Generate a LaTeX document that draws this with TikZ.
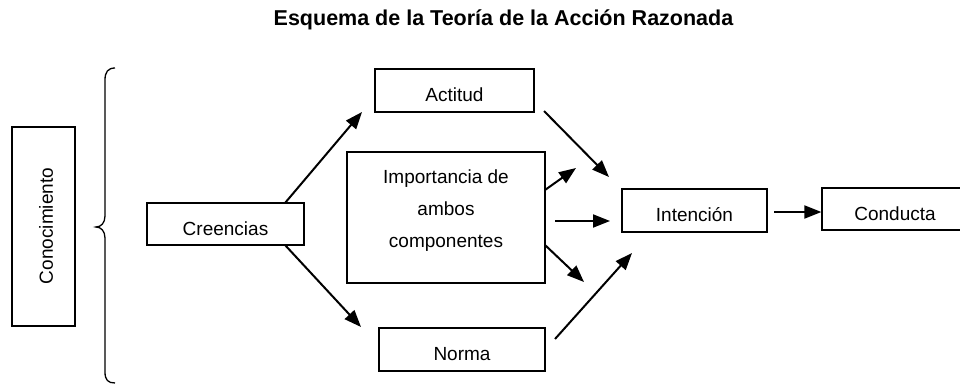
\documentclass[tikz,border=0pt]{standalone}
\usepackage{fontspec}
\setmainfont{Liberation Sans}
\usetikzlibrary{arrows.meta}
\begin{document}
\begin{tikzpicture}[x=1pt,y=-1pt,
  box/.style={draw=black, line width=1.3pt, rectangle, inner sep=0pt, text height=22pt, text depth=0pt, font=\fontsize{19}{22}\selectfont},
  arr/.style={line width=2pt, -{Triangle[length=17pt,width=13pt]}},
  txt/.style={inner sep=0pt, font=\fontsize{19}{32}\selectfont, align=center}]
\useasboundingbox (0,0) rectangle (960,385);
\begin{scope}
\clip (0,0) rectangle (960,385);
% title
\node[inner sep=0pt, font=\fontsize{21.5}{24}\selectfont\bfseries] (title) at (503.5,20) {Esquema de la Teoría de la Acción Razonada};
% boxes
\node[box, minimum width=63pt, minimum height=199pt] (con) at (43.5,226.5) {};
\node[txt, rotate=90] (contxt) at (46,226) {Conocimiento};
\node[box, minimum width=157pt, minimum height=42pt] (cre) at (225.5,224) {Creencias};
\node[box, minimum width=159pt, minimum height=43pt] (act) at (454.5,90.5) {Actitud};
\node[box, minimum width=198pt, minimum height=131pt] (imp) at (446,217.5) {};
\node[txt] (imptxt) at (446,211) {Importancia de\\ambos\\componentes};
\node[box, minimum width=166pt, minimum height=43pt] (nor) at (462,349.5) {Norma};
\node[box, minimum width=145pt, minimum height=43pt] (int) at (694.5,210.5) {Intención};
\node[box, minimum width=146pt, minimum height=42pt] (cond) at (895,209) {Conducta};
% brace
\draw[line width=1.3pt] (115,68) .. controls (108,68) and (105,72) .. (105,80) -- (105,216)
  .. controls (105,223) and (101,227) .. (96,227) .. controls (101,227) and (105,231) .. (105,238)
  -- (105,372) .. controls (105,380) and (108,383) .. (115,383);
% arrow end points
\coordinate (c1s) at (285,203); \coordinate (c1e) at (362,112);
\coordinate (c2s) at (285,245); \coordinate (c2e) at (361,327);
\coordinate (a1s) at (544,111); \coordinate (a1e) at (609,177);
\coordinate (i1s) at (545,190); \coordinate (i1e) at (576,168);
\coordinate (i2s) at (555,221); \coordinate (i2e) at (610,221);
\coordinate (i3s) at (545,245); \coordinate (i3e) at (584,282);
\coordinate (n1s) at (555,339); \coordinate (n1e) at (632,253);
\coordinate (t1s) at (774,212); \coordinate (t1e) at (cond.west |- t1s);
\draw[arr] (c1s) -- (c1e);
\draw[arr] (c2s) -- (c2e);
\draw[arr] (a1s) -- (a1e);
\draw[arr] (i1s) -- (i1e);
\draw[arr] (i2s) -- (i2e);
\draw[arr] (i3s) -- (i3e);
\draw[arr] (n1s) -- (n1e);
\draw[arr] (t1s) -- (t1e);
\end{scope}
\end{tikzpicture}
\end{document}
